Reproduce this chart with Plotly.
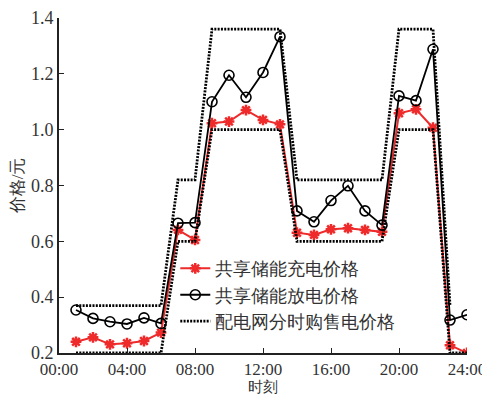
import plotly.graph_objects as go

hours = list(range(1, 25))
charge_price = [0.24, 0.256, 0.231, 0.235, 0.243, 0.273, 0.641, 0.605,
                1.023, 1.029, 1.07, 1.035, 1.019, 0.631, 0.623, 0.643,
                0.647, 0.641, 0.634, 1.059, 1.073, 1.007, 0.228, 0.2]
discharge_price = [0.354, 0.324, 0.312, 0.304, 0.326, 0.306, 0.665, 0.667,
                   1.1, 1.195, 1.116, 1.205, 1.333, 0.709, 0.670, 0.746,
                   0.799, 0.709, 0.658, 1.121, 1.104, 1.288, 0.318, 0.337]
grid_buy_price = [0.37, 0.37, 0.37, 0.37, 0.37, 0.37, 0.82, 0.82,
                  1.36, 1.36, 1.36, 1.36, 1.36, 0.82, 0.82, 0.82,
                  0.82, 0.82, 0.82, 1.36, 1.36, 1.36, 0.37, None]
grid_sell_price = [0.2, 0.2, 0.2, 0.2, 0.2, 0.2, 0.6, 0.6,
                   1.0, 1.0, 1.0, 1.0, 1.0, 0.6, 0.6, 0.6,
                   0.6, 0.6, 0.6, 1.0, 1.0, 1.0, 0.2, 0.2]
x_tick_vals = [0, 4, 8, 12, 16, 20, 24]
x_tick_text = ["00:00", "04:00", "08:00", "12:00", "16:00", "20:00", "24:00"]
y_tick_vals = [0.2, 0.4, 0.6, 0.8, 1.0, 1.2, 1.4]

FONT = "Liberation Serif, serif"
RED = "#ee2a2a"
DOT = "2px,1.3px"

fig = go.Figure()
fig.add_trace(go.Scatter(
    x=hours, y=charge_price, mode="lines+markers", name="共享储能充电价格",
    line=dict(color=RED, width=2),
    marker=dict(symbol="asterisk-open", size=9, color=RED, line=dict(color=RED, width=2.5)),
    legendgroup="a"))
fig.add_trace(go.Scatter(
    x=hours, y=discharge_price, mode="lines+markers", name="共享储能放电价格",
    line=dict(color="black", width=1.8),
    marker=dict(symbol="circle-open", size=10, color="black", line=dict(color="black", width=1.6)),
    legendgroup="b"))
fig.add_trace(go.Scatter(
    x=hours, y=grid_buy_price, mode="lines", name="配电网分时购售电价格",
    line=dict(color="black", width=2.8, dash=DOT), legendgroup="c"))
fig.add_trace(go.Scatter(
    x=hours, y=grid_sell_price, mode="lines", name="配电网分时购售电价格",
    line=dict(color="black", width=2.8, dash=DOT), legendgroup="c", showlegend=False))

# page body has an 8px margin, so the figure is sized/offset to compensate
fig.update_layout(
    width=482, height=389,
    margin=dict(l=51, r=23, t=10, b=44, autoexpand=False),
    paper_bgcolor="white", plot_bgcolor="white",
    font=dict(family=FONT, size=18, color="#333"),
    legend=dict(x=0.285, y=0.307, xanchor="left", yanchor="top",
                bgcolor="rgba(0,0,0,0)", font=dict(size=18, color="#333"),
                tracegroupgap=0),
    xaxis=dict(range=[0, 24], tickvals=x_tick_vals, ticktext=x_tick_text,
               showgrid=False, zeroline=False, showline=True, linecolor="#222",
               linewidth=1.5, ticks="inside", ticklen=5, tickcolor="#222",
               tickfont=dict(size=17), automargin=False),
    yaxis=dict(range=[0.2, 1.4], tickvals=y_tick_vals, tickformat=".1f",
               showgrid=False, zeroline=False, showline=True, linecolor="#222",
               linewidth=2, ticks="inside", ticklen=5, tickcolor="#222",
               automargin=False,
               title=dict(text="价格/元", standoff=8, font=dict(size=17))),
    annotations=[dict(text="时刻", xref="paper", yref="paper", x=0.5, y=-0.1015,
                      xanchor="center", yanchor="middle", showarrow=False,
                      borderpad=0, font=dict(size=15, color="#333"))],
)

fig.write_html("out.html")
